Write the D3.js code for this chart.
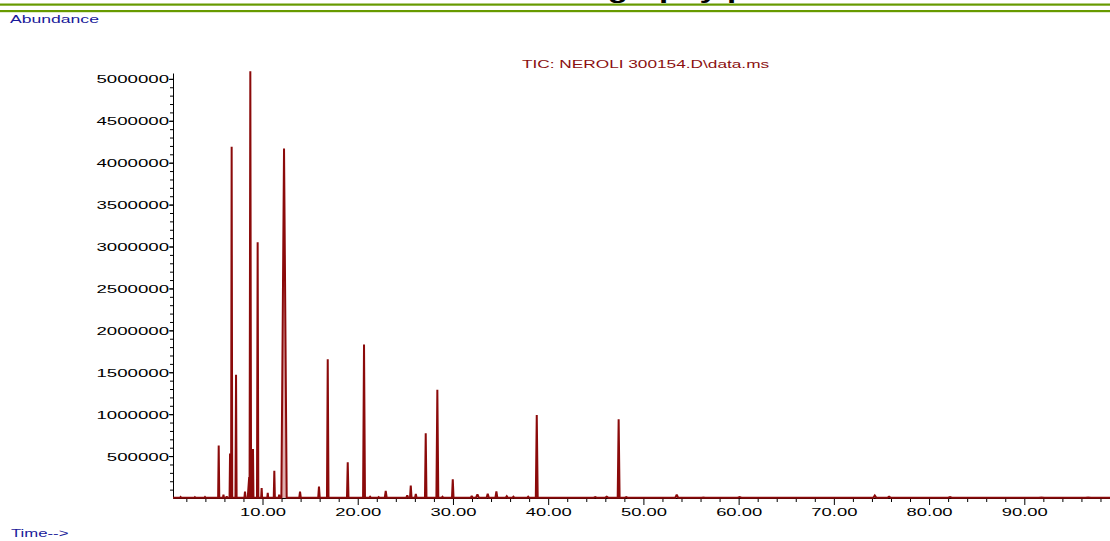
<!DOCTYPE html>
<html>
<head>
<meta charset="utf-8">
<script src="https://cdn.jsdelivr.net/npm/d3@7"></script>
<style>
  html, body { margin: 0; padding: 0; background: #fff; }
  svg { display: block; }
  text { font-family: "Liberation Sans", Arial, sans-serif; }
</style>
</head>
<body>
<svg id="chart" width="1110" height="541"></svg>
<script>
// ---- data ----
const peakTimes = [1.4, 2.9, 3.96, 5.40, 5.9, 6.24, 6.59, 6.76, 7.22, 8.16, 8.6, 8.72, 9.0, 9.49, 9.91, 10.55, 11.24, 11.75, 12.26, 13.94,
  15.93, 16.85, 18.95, 20.66, 21.3, 22.2, 22.94, 25.2, 25.57, 26.1, 27.14, 28.36, 28.9, 29.98, 31.97, 32.57, 33.65, 34.56, 35.65, 36.35,
  37.9, 38.8, 44.94, 46.15, 47.4, 48.2, 53.5, 56.3, 60.1, 74.3, 75.8, 82.2, 91.8, 96.7];
const peakHeights = [12000, 10000, 12000, 625000, 40000, 20000, 530000, 4190000, 1470000, 75000, 250000, 5090000, 585000, 3050000, 119000, 60000, 326000, 40000, 4170000, 75000,
  135000, 1655000, 426000, 1830000, 15000, 12000, 84000, 30000, 147000, 48000, 772000, 1292000, 15000, 223000, 25000, 44000, 51000, 80000, 20000, 15000,
  15000, 990000, 12000, 15000, 940000, 10000, 40000, 6000, 12000, 30000, 15000, 12000, 6000, 6000];
const peakHalfWidths = [0.06, 0.06, 0.06, 0.06, 0.05, 0.05, 0.05, 0.06, 0.06, 0.06, 0.15, 0.08, 0.05, 0.07, 0.05, 0.05, 0.06, 0.05, 0.28, 0.08,
  0.08, 0.08, 0.08, 0.1, 0.08, 0.08, 0.1, 0.1, 0.08, 0.08, 0.08, 0.1, 0.08, 0.08, 0.1, 0.15, 0.12, 0.1, 0.1, 0.1,
  0.1, 0.1, 0.15, 0.15, 0.1, 0.15, 0.15, 0.2, 0.2, 0.15, 0.15, 0.2, 0.3, 0.3];
const baselineLevel = 4000;
const timeDomain = [0.6, 99.0];
const abundanceMax = 5070000;
const yMajorTicks = [500000, 1000000, 1500000, 2000000, 2500000, 3000000, 3500000, 4000000, 4500000, 5000000];
const xMajorTicks = [10, 20, 30, 40, 50, 60, 70, 80, 90];
const yMinorStep = 100000;
const xMinorStep = 2;
const traceLabel = "TIC: NEROLI 300154.D\\data.ms";
const yAxisTitle = "Abundance";
const xAxisTitle = "Time-->";
const pageTitle = "Chromatography profile";

// ---- layout ----
const svg = d3.select("#chart");
const plotLeft = 173, plotRight = 1110, plotBottom = 498, plotTop = 73;
const SX = 1.6; // horizontal stretch of the reference text

const x = d3.scaleLinear().domain(timeDomain).range([plotLeft, plotRight]);
const y = d3.scaleLinear().domain([0, abundanceMax]).range([plotBottom, plotTop]);

// header rules and clipped title (only its descenders show, as in the reference)
svg.append("text").attr("x", 0).attr("y", -2)
  .attr("transform", `translate(452,0) scale(1.5,1)`)
  .attr("font-size", 22).attr("font-weight", "bold").attr("fill", "#000")
  .text(pageTitle);
svg.append("rect").attr("x", 0).attr("y", 3.5).attr("width", 1110).attr("height", 2.2).attr("fill", "#679a00");
svg.append("rect").attr("x", 0).attr("y", 10).attr("width", 1110).attr("height", 2.2).attr("fill", "#679a00");

// axis titles
svg.append("text").attr("transform", `translate(10,23) scale(${SX},1)`)
  .attr("font-size", 11).attr("fill", "#1a1a9a").text(yAxisTitle);
svg.append("text").attr("transform", `translate(11,537) scale(${SX * 0.95},1)`)
  .attr("font-size", 11).attr("fill", "#1a1a9a").text(xAxisTitle);
svg.append("text").attr("transform", `translate(522,67.5) scale(${SX * 0.98},1)`)
  .attr("font-size", 11).attr("fill", "#8b1010").text(traceLabel);

// y axis
const yMinor = d3.range(yMinorStep, abundanceMax, yMinorStep);
const gy = svg.append("g").attr("transform", `translate(${plotLeft},0)`);
gy.call(d3.axisLeft(y).tickValues(yMinor).tickSize(3).tickFormat("").tickSizeOuter(0));
gy.append("g").call(d3.axisLeft(y).tickValues(yMajorTicks).tickSize(4).tickFormat(d3.format("d")).tickSizeOuter(0))
  .call(g => g.select(".domain").remove());
gy.selectAll(".tick line").attr("stroke", "#000");
gy.selectAll(".domain").attr("stroke", "#000");
gy.selectAll(".tick text")
  .attr("x", null).attr("dy", null).attr("y", 4)
  .attr("transform", `translate(-4,0) scale(1.62,1)`)
  .attr("text-anchor", "end")
  .attr("font-size", 11.5).attr("font-family", "Liberation Sans, Arial, sans-serif").attr("fill", "#000");

// x axis
const xMinor = d3.range(xMinorStep, timeDomain[1], xMinorStep).filter(v => v % 10 !== 0);
const gx = svg.append("g").attr("transform", `translate(0,${plotBottom})`);
gx.call(d3.axisBottom(x).tickValues(xMinor).tickSize(4).tickFormat("").tickSizeOuter(0));
gx.append("g").call(d3.axisBottom(x).tickValues(xMajorTicks).tickSize(7).tickFormat(d3.format(".2f")).tickSizeOuter(0))
  .call(g => g.select(".domain").remove());
gx.selectAll(".tick line").attr("stroke", "#000");
gx.selectAll(".domain").attr("stroke", "#000");
gx.selectAll(".tick text")
  .attr("y", 18).attr("dy", null)
  .attr("transform", `scale(${SX},1)`)
  .attr("font-size", 11.5).attr("font-family", "Liberation Sans, Arial, sans-serif").attr("fill", "#000");

// chromatogram trace built from peak list
const peaks = peakTimes.map((t, i) => ({ t, h: peakHeights[i], w: peakHalfWidths[i] })).sort((a, b) => a.t - b.t);
const pts = [{ t: timeDomain[0], v: baselineLevel }];
peaks.forEach(p => {
  pts.push({ t: p.t - p.w, v: baselineLevel });
  pts.push({ t: p.t, v: p.h });
  pts.push({ t: p.t + p.w, v: baselineLevel });
});
pts.push({ t: timeDomain[1], v: baselineLevel });

svg.append("path").datum(pts)
  .attr("d", d3.area().x(d => x(d.t)).y0(y(0)).y1(d => y(d.v)))
  .attr("fill", "#a01818").attr("fill-opacity", 0.35);
svg.append("path").datum(pts)
  .attr("d", d3.line().x(d => x(d.t)).y(d => y(d.v)))
  .attr("fill", "none").attr("stroke", "#8b0a0a").attr("stroke-width", 2).attr("stroke-linejoin", "miter").attr("stroke-miterlimit", 2);
</script>
</body>
</html>
